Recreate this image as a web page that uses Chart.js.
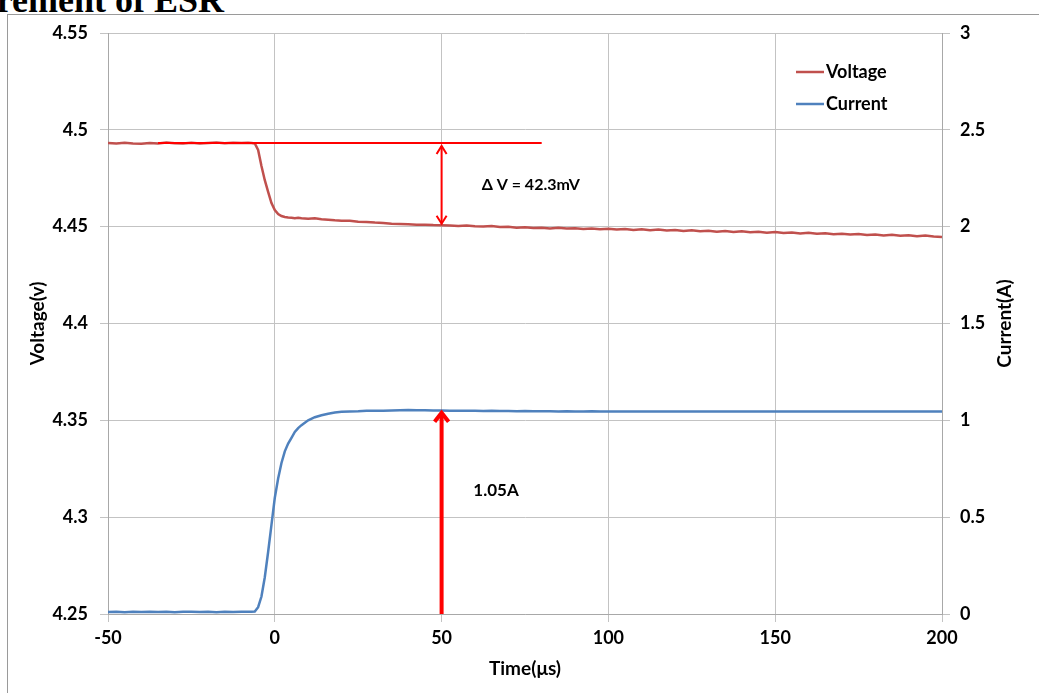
<!DOCTYPE html>
<html>
<head>
<meta charset="utf-8">
<script src="https://cdn.jsdelivr.net/npm/chart.js@4.4.1/dist/chart.umd.min.js"></script>
<style>
  html, body { margin: 0; padding: 0; background: #fff; overflow: hidden; }
  #wrap { position: relative; width: 1039px; height: 693px; }
  #frame { position: absolute; left: 7px; top: 14px; width: 1100px; height: 700px;
           border: 1.5px solid #9a9a9a; box-sizing: border-box; }
  #title { position: absolute; right: 815px; top: -18px; white-space: nowrap;
           font: bold 36px "Liberation Serif", serif; line-height: 36px; color: #000; }
  #esrChart { position: absolute; left: 0; top: 0; }
</style>
</head>
<body>
<div id="wrap">
  <div id="frame"></div>
  <div id="title">Measurement of ESR</div>
  <canvas id="esrChart" width="1039" height="693"></canvas>
</div>
<script>
// time axis (µs)
const times = [
  -50, -47.5, -45, -42.5, -40, -37.5, -35, -32.5, -30, -27.5, -25, -22.5, -20, -17.5, -15, -12.5, -10,
  -8, -7, -6, -5, -4, -3, -2, -1, 0, 1, 2, 3, 4, 5, 6, 7, 8,
  10, 12, 14, 16, 18, 20,
  22.5, 25, 27.5, 30, 32.5, 35, 37.5, 40,
  42.5, 45, 47.5, 50, 52.5, 55, 57.5, 60,
  62.5, 65, 67.5, 70, 72.5, 75, 77.5, 80,
  82.5, 85, 87.5, 90, 92.5, 95, 97.5, 100,
  102.5, 105, 107.5, 110, 112.5, 115, 117.5, 120,
  122.5, 125, 127.5, 130, 132.5, 135, 137.5, 140,
  142.5, 145, 147.5, 150, 152.5, 155, 157.5, 160,
  162.5, 165, 167.5, 170, 172.5, 175, 177.5, 180,
  182.5, 185, 187.5, 190, 192.5, 195, 197.5, 200
];

const voltage = [
  4.4932, 4.4929, 4.4933, 4.4930, 4.4928, 4.4932, 4.4930, 4.4934, 4.4931, 4.4929, 4.4933, 4.4930, 4.4932, 4.4934, 4.4931, 4.4933, 4.4932,
  4.4933, 4.4932, 4.4930, 4.4896, 4.4813, 4.4740, 4.4680, 4.4622, 4.4586, 4.4565, 4.4555, 4.4550, 4.4547, 4.4546, 4.4544, 4.4546, 4.4543,
  4.4541, 4.4543, 4.4538, 4.4536, 4.4533, 4.4531,
  4.4530, 4.4526, 4.4524, 4.4521, 4.4519, 4.4515, 4.4514, 4.4512,
  4.4510, 4.4510, 4.4508, 4.4507, 4.4506, 4.4504, 4.4506, 4.4502,
  4.4501, 4.4503, 4.4498, 4.4500, 4.4495, 4.4497, 4.4493, 4.4494,
  4.4491, 4.4494, 4.4490, 4.4492, 4.4488, 4.4491, 4.4487, 4.4489,
  4.4485, 4.4488, 4.4483, 4.4486, 4.4481, 4.4485, 4.4480, 4.4483,
  4.4478, 4.4481, 4.4476, 4.4479, 4.4474, 4.4477, 4.4472, 4.4476,
  4.4471, 4.4474, 4.4469, 4.4472, 4.4467, 4.4470, 4.4465, 4.4468,
  4.4463, 4.4466, 4.4461, 4.4464, 4.4459, 4.4462, 4.4457, 4.4460,
  4.4455, 4.4458, 4.4453, 4.4456, 4.4451, 4.4454, 4.4449, 4.4446
];

const current = [
  0.010, 0.012, 0.009, 0.011, 0.010, 0.012, 0.010, 0.011, 0.009, 0.011, 0.012, 0.010, 0.011, 0.009, 0.011, 0.010, 0.012,
  0.011, 0.012, 0.013, 0.035, 0.090, 0.190, 0.320, 0.460, 0.600, 0.700, 0.780, 0.840, 0.880, 0.910, 0.940, 0.960, 0.975,
  1.000, 1.016, 1.026, 1.034, 1.040, 1.044,
  1.046, 1.047, 1.049, 1.050, 1.050, 1.051, 1.052, 1.053,
  1.052, 1.052, 1.051, 1.051, 1.050, 1.050, 1.049, 1.049,
  1.048, 1.049, 1.048, 1.048, 1.047, 1.048, 1.047, 1.047,
  1.047, 1.046, 1.047, 1.046, 1.046, 1.047, 1.046, 1.046,
  1.046, 1.045, 1.046, 1.046, 1.045, 1.046, 1.045, 1.045,
  1.046, 1.045, 1.045, 1.046, 1.045, 1.045, 1.045, 1.046,
  1.045, 1.045, 1.046, 1.045, 1.045, 1.045, 1.046, 1.045,
  1.045, 1.045, 1.046, 1.045, 1.045, 1.046, 1.045, 1.045,
  1.045, 1.046, 1.045, 1.045, 1.045, 1.046, 1.045, 1.045
];

// annotation values (time, voltage / current)
const refLineTimes = [-35, 80];
const refVoltage = 4.4932;
const settledVoltage = 4.4510;
const markerTime = 50;
const markerCurrent = 1.05;
const deltaLabel = "\u0394 V = 42.3mV";
const deltaLabelPos = [62, 4.4715];
const currentLabel = "1.05A";
const currentLabelPos = [59.5, 0.64];

const FONT = "Lato, 'Open Sans', sans-serif";
const GRID = "#c3c3c3";
const tickFont = { family: FONT, size: 18, weight: "bold" };
const titleFont = { family: FONT, size: 19, weight: "bold" };
const plain = v => String(Number(v.toFixed(2)));

function arrowHead(ctx, x, y, dir, size, spread) {
  ctx.beginPath();
  ctx.moveTo(x - spread, y - dir * size);
  ctx.lineTo(x, y);
  ctx.lineTo(x + spread, y - dir * size);
  ctx.stroke();
}

const annotations = {
  id: "annotations",
  afterDatasetsDraw(chart) {
    const { ctx, scales: { x, y, y1 } } = chart;
    ctx.save();
    ctx.strokeStyle = "#ff0000";
    ctx.lineCap = "butt";

    // reference level line
    ctx.lineWidth = 2;
    ctx.beginPath();
    ctx.moveTo(x.getPixelForValue(refLineTimes[0]), y.getPixelForValue(refVoltage));
    ctx.lineTo(x.getPixelForValue(refLineTimes[1]), y.getPixelForValue(refVoltage));
    ctx.stroke();

    // delta V double arrow
    const mx = x.getPixelForValue(markerTime);
    const top = y.getPixelForValue(refVoltage) + 3;
    const bot = y.getPixelForValue(settledVoltage) - 1;
    ctx.beginPath();
    ctx.moveTo(mx, top);
    ctx.lineTo(mx, bot);
    ctx.stroke();
    arrowHead(ctx, mx, top, -1, 8, 5);
    arrowHead(ctx, mx, bot, 1, 8, 5);

    // current arrow
    const cTop = y1.getPixelForValue(markerCurrent) + 2;
    const cBot = y.getPixelForValue(4.25);
    ctx.lineWidth = 4;
    ctx.beginPath();
    ctx.moveTo(mx, cBot);
    ctx.lineTo(mx, cTop + 2);
    ctx.stroke();
    arrowHead(ctx, mx, cTop, -1, 9, 7);

    // labels
    ctx.fillStyle = "#000";
    ctx.textAlign = "left";
    ctx.textBaseline = "middle";
    ctx.font = "bold 16px " + FONT;
    ctx.fillText(deltaLabel, x.getPixelForValue(deltaLabelPos[0]), y.getPixelForValue(deltaLabelPos[1]));
    ctx.font = "bold 17px " + FONT;
    ctx.fillText(currentLabel, x.getPixelForValue(currentLabelPos[0]), y1.getPixelForValue(currentLabelPos[1]));
    ctx.restore();
  }
};

const legendAndTitle = {
  id: "legendAndTitle",
  afterDraw(chart) {
    const { ctx, chartArea } = chart;
    ctx.save();
    ctx.font = "bold 18px " + FONT;
    ctx.textBaseline = "middle";
    ctx.textAlign = "left";
    chart.data.datasets.forEach((ds, i) => {
      const ly = 72 + i * 32;
      ctx.strokeStyle = ds.borderColor;
      ctx.lineWidth = 2.5;
      ctx.beginPath();
      ctx.moveTo(796, ly);
      ctx.lineTo(824, ly);
      ctx.stroke();
      ctx.fillStyle = "#000";
      ctx.fillText(ds.label, 826, ly);
    });
    // right axis title, reads bottom-to-top
    ctx.font = "bold 19px " + FONT;
    ctx.translate(1005, (chartArea.top + chartArea.bottom) / 2);
    ctx.rotate(-Math.PI / 2);
    ctx.textAlign = "center";
    ctx.fillText("Current(A)", 0, 0);
    ctx.restore();
  }
};

new Chart(document.getElementById("esrChart"), {
  type: "line",
  data: {
    datasets: [
      {
        label: "Voltage",
        data: times.map((t, i) => ({ x: t, y: voltage[i] })),
        borderColor: "#c0504d",
        borderWidth: 2.5,
        pointRadius: 0,
        tension: 0,
        yAxisID: "y"
      },
      {
        label: "Current",
        data: times.map((t, i) => ({ x: t, y: current[i] })),
        borderColor: "#4f81bd",
        borderWidth: 2.5,
        pointRadius: 0,
        tension: 0,
        yAxisID: "y1"
      }
    ]
  },
  options: {
    responsive: false,
    animation: false,
    layout: { padding: { top: 33, left: 0, right: 0, bottom: 0 } },
    plugins: { legend: { display: false }, tooltip: { enabled: false } },
    scales: {
      x: {
        type: "linear",
        min: -50,
        max: 200,
        ticks: { stepSize: 50, color: "#000", padding: 5, font: tickFont, callback: plain },
        grid: { color: GRID, tickLength: 8 },
        border: { color: "#a8a8a8" },
        title: { display: true, text: "Time(\u03bcs)", color: "#000", padding: { bottom: 13 }, font: titleFont },
        afterFit: s => { s.height = 79; }
      },
      y: {
        position: "left",
        min: 4.25,
        max: 4.55,
        ticks: { stepSize: 0.05, color: "#000", padding: 12, font: tickFont, callback: plain },
        grid: { color: GRID, tickLength: 8 },
        border: { color: "#a8a8a8" },
        title: { display: true, text: "Voltage(v)", color: "#000", padding: { top: 26 }, font: titleFont },
        afterFit: s => { s.width = 108; }
      },
      y1: {
        position: "right",
        min: 0,
        max: 3,
        ticks: { stepSize: 0.5, color: "#000", padding: 10, font: tickFont, callback: plain },
        grid: { drawOnChartArea: false, color: GRID, tickLength: 8 },
        border: { color: "#a8a8a8" },
        afterFit: s => { s.width = 97; }
      }
    }
  },
  plugins: [annotations, legendAndTitle]
});
</script>
</body>
</html>
